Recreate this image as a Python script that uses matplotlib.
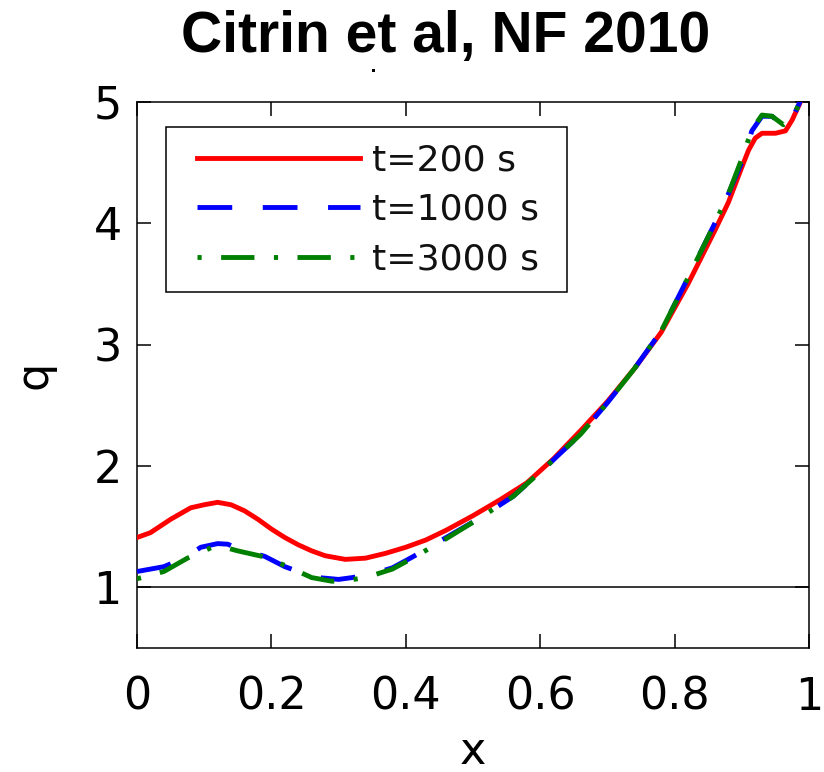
import matplotlib
matplotlib.use("Agg")
import matplotlib.pyplot as plt
from matplotlib.patches import Rectangle

plt.rcParams['font.family'] = ['DejaVu Sans']
plt.rcParams['lines.scale_dashes'] = False

# q profiles
x_red = [0.0, 0.02, 0.05, 0.08, 0.10, 0.12, 0.14, 0.16, 0.18, 0.20, 0.22, 0.24,
         0.26, 0.28, 0.31, 0.34, 0.37, 0.40, 0.43, 0.46, 0.50, 0.54, 0.58, 0.62,
         0.66, 0.70, 0.74, 0.78, 0.82, 0.86, 0.88, 0.90, 0.91, 0.92, 0.93, 0.95,
         0.965, 0.975, 0.985, 0.995]
q_red = [1.41, 1.45, 1.56, 1.655, 1.68, 1.70, 1.68, 1.63, 1.56, 1.48, 1.41, 1.35,
         1.30, 1.26, 1.23, 1.24, 1.28, 1.33, 1.39, 1.47, 1.59, 1.72, 1.86, 2.06,
         2.29, 2.53, 2.80, 3.10, 3.50, 3.94, 4.17, 4.46, 4.60, 4.70, 4.74, 4.74,
         4.76, 4.85, 4.97, 5.10]

x_blue = [0.0, 0.04, 0.07, 0.095, 0.12, 0.135, 0.155, 0.19, 0.22, 0.25, 0.27, 0.30,
          0.32, 0.35, 0.38, 0.41, 0.46, 0.51, 0.56, 0.61, 0.66, 0.70, 0.74, 0.78,
          0.82, 0.86, 0.88, 0.90, 0.915, 0.93, 0.945, 0.962, 0.975, 0.985, 0.995]
q_blue = [1.13, 1.17, 1.24, 1.33, 1.36, 1.355, 1.31, 1.255, 1.17, 1.11, 1.08, 1.065,
          1.08, 1.11, 1.16, 1.25, 1.41, 1.57, 1.75, 2.00, 2.26, 2.52, 2.80, 3.11,
          3.55, 4.00, 4.24, 4.50, 4.76, 4.88, 4.88, 4.80, 4.86, 4.98, 5.10]

x_green = [0.0, 0.04, 0.075, 0.11, 0.13, 0.15, 0.19, 0.22, 0.26, 0.29, 0.31, 0.34,
           0.38, 0.41, 0.46, 0.51, 0.56, 0.61, 0.66, 0.70, 0.74, 0.78, 0.82, 0.86,
           0.88, 0.90, 0.915, 0.93, 0.945, 0.962, 0.975, 0.985, 0.995]
q_green = [1.07, 1.13, 1.24, 1.325, 1.33, 1.30, 1.25, 1.18, 1.08, 1.05, 1.055, 1.08,
           1.15, 1.24, 1.40, 1.57, 1.75, 2.00, 2.26, 2.52, 2.80, 3.11, 3.55, 4.00,
           4.24, 4.53, 4.77, 4.89, 4.88, 4.81, 4.86, 4.98, 5.10]

labels = ['t=200 s', 't=1000 s', 't=3000 s']
x_ticks = [0, 0.2, 0.4, 0.6, 0.8, 1]
x_ticklabels = ['0', '0.2', '0.4', '0.6', '0.8', '1']
y_ticks = [1, 2, 3, 4, 5]

fig = plt.figure(figsize=(8.24, 7.72), dpi=100)
ax = fig.add_axes([137 / 824, 124 / 772, 672 / 824, 546.3 / 772])

ax.axhline(1.0, color='black', lw=1.1, zorder=1)
ax.plot(x_red, q_red, color='#ff0000', lw=3.5, label=labels[0], zorder=3)
ax.plot(x_blue, q_blue, color='#0000ff', lw=3.5, ls=(0, (25, 22)),
        dash_capstyle='butt', label=labels[1], zorder=4)
ax.plot(x_green, q_green, color='#008000', lw=3.5, ls=(0, (3, 14, 24, 14)),
        dash_capstyle='butt', label=labels[2], zorder=5)

ax.set_xlim(0, 1)
ax.set_ylim(0.5, 5)
ax.set_xticks(x_ticks)
ax.set_xticklabels(x_ticklabels)
ax.set_yticks(y_ticks)
ax.tick_params(direction='in', length=10, width=1.1, top=True, right=True,
               labelsize=32, colors='black')
ax.tick_params(axis='x', pad=20)
ax.tick_params(axis='y', pad=11)
for s in ax.spines.values():
    s.set_linewidth(1.1)

ax.set_xlabel('x', fontsize=32)
ax.xaxis.set_label_coords(0.5, -0.212)
ax.xaxis.label.set_va('baseline')
ax.set_ylabel('q', fontsize=32)
ax.yaxis.set_label_coords(-0.134, 0.5)
ax.yaxis.label.set_va('baseline')

leg = ax.legend(loc='center left', bbox_to_anchor=(60 / 672, 438 / 546.3),
                frameon=False, fontsize=26, handlelength=4.5, handletextpad=0.36,
                labelspacing=0.42, borderpad=0, borderaxespad=0)
for t in leg.get_texts():
    t.set_color('#111111')

# legend box
ax.add_patch(Rectangle((29 / 672, (648 - 292) / 546.3), 401 / 672, 165 / 546.3,
                       transform=ax.transAxes, fill=False, edgecolor='black',
                       lw=1.1, zorder=6))

fig.text(446 / 824, 1 - 37 / 772, 'Citrin et al, NF 2010', fontsize=41,
         family=['Liberation Sans', 'DejaVu Sans'], fontweight='bold',
         ha='center', va='center')
# small speck under the title
fig.add_artist(Rectangle((372 / 824, 1 - 72 / 772), 3 / 824, 3 / 772,
                         transform=fig.transFigure, color='black', lw=0))

fig.savefig('out.png', dpi=100)
